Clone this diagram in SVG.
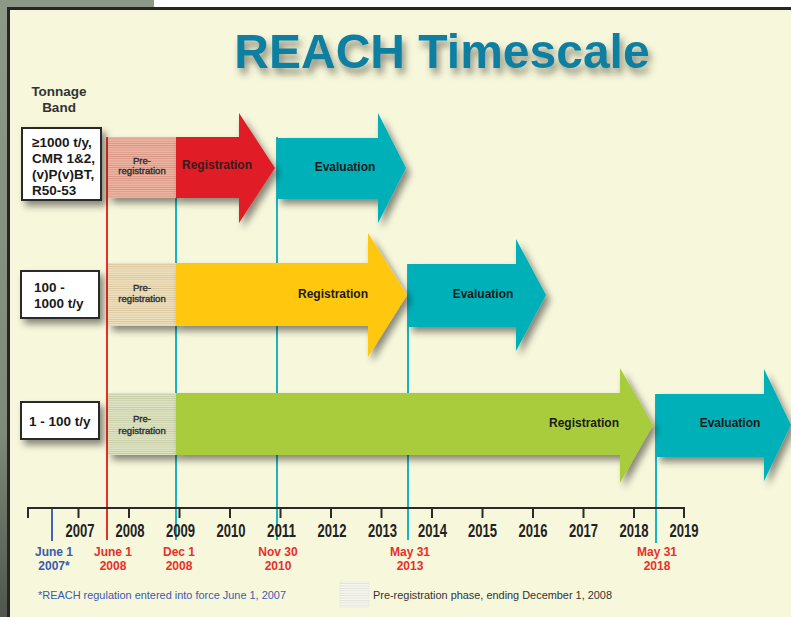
<svg xmlns="http://www.w3.org/2000/svg" width="791" height="617" viewBox="0 0 791 617">
<defs>
<linearGradient id="side" x1="0" y1="0" x2="0" y2="1">
<stop offset="0" stop-color="#8E9886"/><stop offset="0.7" stop-color="#7f8a78"/><stop offset="1" stop-color="#50564d"/>
</linearGradient>
<filter id="sh" x="-20%" y="-20%" width="150%" height="160%">
<feDropShadow dx="4" dy="5" stdDeviation="3.5" flood-color="#000" flood-opacity="0.45"/>
</filter>
<filter id="tsh" x="-10%" y="-30%" width="130%" height="180%">
<feDropShadow dx="3" dy="6" stdDeviation="3.5" flood-color="#3a3a2a" flood-opacity="0.55"/>
</filter>
<pattern id="p1" width="4" height="2.2" patternUnits="userSpaceOnUse"><rect width="4" height="2.2" fill="#EDB5A2"/><rect width="4" height="0.8" fill="#D79282"/></pattern>
<pattern id="p2" width="4" height="2.2" patternUnits="userSpaceOnUse"><rect width="4" height="2.2" fill="#EFE0BE"/><rect width="4" height="0.8" fill="#D8C69E"/></pattern>
<pattern id="p3" width="4" height="2.2" patternUnits="userSpaceOnUse"><rect width="4" height="2.2" fill="#DFE4C4"/><rect width="4" height="0.8" fill="#C3CBA4"/></pattern>
<pattern id="p4" width="4" height="2.4" patternUnits="userSpaceOnUse"><rect width="4" height="2.4" fill="#F6F6EE"/><rect width="4" height="0.7" fill="#DEDED6"/></pattern>
<style>
text{font-family:"Liberation Sans",Arial,sans-serif}
.b{font-weight:bold}
.box{fill:#fff;stroke:#2b2b2b;stroke-width:2}
.bt{font-size:13.5px;font-weight:bold;fill:#1a1a1a}
.pre{font-size:9.6px;fill:#2e2e2e;stroke:#2e2e2e;stroke-width:0.35;text-anchor:middle}
.lab{font-size:12px;font-weight:bold;text-anchor:middle;fill:#1a1a1a}
.yr{font-size:18px;font-weight:bold;fill:#222;text-anchor:middle}
.dt{font-size:12px;font-weight:bold;text-anchor:middle;fill:#E8302A}
.tl{stroke:#1BB3C0;stroke-width:2}
.tk{stroke:#2a2a2a;stroke-width:2}
</style>
</defs>
<rect width="791" height="617" fill="url(#side)"/>
<rect x="154" y="0" width="637" height="8" fill="#ffffff"/>
<rect x="7" y="7" width="784" height="610" fill="#262626"/>
<rect x="10" y="10" width="781" height="607" fill="#F7F7DC"/>

<text x="442" y="68" class="b" font-size="48" fill="#0A80A2" text-anchor="middle" filter="url(#tsh)">REACH Timescale</text>

<g id="tonnage-title"><text x="59" y="96" class="b" font-size="13.5" fill="#333" text-anchor="middle">Tonnage</text><text x="59" y="112" class="b" font-size="13.5" fill="#333" text-anchor="middle">Band</text></g>

<g id="connectors">
<line class="tl" x1="176" y1="137" x2="176" y2="540"/>
<line class="tl" x1="277" y1="137" x2="277" y2="540"/>
<line class="tl" x1="408" y1="264" x2="408" y2="540"/>
<line class="tl" x1="656" y1="394" x2="656" y2="543"/>
<line x1="107" y1="137" x2="107" y2="540" stroke="#E8302A" stroke-width="2"/>
<line x1="52" y1="508" x2="52" y2="541" stroke="#4463B5" stroke-width="2"/>
<line class="tk" x1="27" y1="508" x2="685" y2="508"/>
<g class="tk">
<line x1="28" y1="508" x2="28" y2="518"/><line x1="78.5" y1="508" x2="78.5" y2="518"/><line x1="129" y1="508" x2="129" y2="518"/><line x1="179.5" y1="508" x2="179.5" y2="518"/><line x1="230" y1="508" x2="230" y2="518"/><line x1="280.5" y1="508" x2="280.5" y2="518"/><line x1="331" y1="508" x2="331" y2="518"/><line x1="381.5" y1="508" x2="381.5" y2="518"/><line x1="432" y1="508" x2="432" y2="518"/><line x1="482.5" y1="508" x2="482.5" y2="518"/><line x1="533" y1="508" x2="533" y2="518"/><line x1="583.5" y1="508" x2="583.5" y2="518"/><line x1="634" y1="508" x2="634" y2="518"/><line x1="684" y1="508" x2="684" y2="518"/>
</g>
</g>

<g id="years">
<text class="yr" x="80" y="537" textLength="29" lengthAdjust="spacingAndGlyphs">2007</text>
<text class="yr" x="130" y="537" textLength="29" lengthAdjust="spacingAndGlyphs">2008</text>
<text class="yr" x="180.5" y="537" textLength="29" lengthAdjust="spacingAndGlyphs">2009</text>
<text class="yr" x="231" y="537" textLength="29" lengthAdjust="spacingAndGlyphs">2010</text>
<text class="yr" x="281.5" y="537" textLength="29" lengthAdjust="spacingAndGlyphs">2011</text>
<text class="yr" x="332" y="537" textLength="29" lengthAdjust="spacingAndGlyphs">2012</text>
<text class="yr" x="382.5" y="537" textLength="29" lengthAdjust="spacingAndGlyphs">2013</text>
<text class="yr" x="432.5" y="537" textLength="29" lengthAdjust="spacingAndGlyphs">2014</text>
<text class="yr" x="482.5" y="537" textLength="29" lengthAdjust="spacingAndGlyphs">2015</text>
<text class="yr" x="533" y="537" textLength="29" lengthAdjust="spacingAndGlyphs">2016</text>
<text class="yr" x="583.5" y="537" textLength="29" lengthAdjust="spacingAndGlyphs">2017</text>
<text class="yr" x="634" y="537" textLength="29" lengthAdjust="spacingAndGlyphs">2018</text>
<text class="yr" x="684" y="537" textLength="29" lengthAdjust="spacingAndGlyphs">2019</text>
</g>

<g id="dates">
<text class="dt" x="54" y="556" style="fill:#3A5BB0">June 1</text><text class="dt" x="54" y="570" style="fill:#3A5BB0">2007*</text>
<text class="dt" x="113" y="556">June 1</text><text class="dt" x="113" y="570">2008</text>
<text class="dt" x="179" y="556">Dec 1</text><text class="dt" x="179" y="570">2008</text>
<text class="dt" x="278" y="556">Nov 30</text><text class="dt" x="278" y="570">2010</text>
<text class="dt" x="410" y="556">May 31</text><text class="dt" x="410" y="570">2013</text>
<text class="dt" x="657" y="556">May 31</text><text class="dt" x="657" y="570">2018</text>
</g>

<g id="box-1000"><rect class="box" x="22" y="128" width="79" height="72" filter="url(#sh)"/>
<text class="bt" x="32" y="147">≥1000 t/y,</text><text class="bt" x="32" y="163">CMR 1&amp;2,</text><text class="bt" x="32" y="179">(v)P(v)BT,</text><text class="bt" x="32" y="195">R50-53</text></g>
<g id="box-100-1000"><rect class="box" x="21" y="271" width="78" height="47" filter="url(#sh)"/>
<text class="bt" x="34" y="292">100 -</text><text class="bt" x="34" y="308">1000 t/y</text></g>
<g id="box-1-100"><rect class="box" x="21" y="402" width="78" height="37" filter="url(#sh)"/>
<text class="bt" x="29" y="426">1 - 100 t/y</text></g>

<g id="eval-1"><path d="M277,138 H378 V113 L406,168 L378,223 V199 H277 Z" fill="#00B0B8" filter="url(#sh)"/><text class="lab" x="345" y="171">Evaluation</text></g>
<g id="pre-1"><rect x="108" y="137" width="68" height="61" fill="url(#p1)" filter="url(#sh)"/><text class="pre" x="142" y="164">Pre-</text><text class="pre" x="142" y="174">registration</text></g>
<g id="reg-1"><path d="M176,137 H239 V113 L275,168 L239,223 V198 H176 Z" fill="#E01F28" filter="url(#sh)"/><text class="lab" x="217" y="169" style="fill:#3a1c1c">Registration</text></g>

<g id="eval-2"><path d="M408,264 H516 V239 L546,295 L516,351 V327 H408 Z" fill="#00B0B8" filter="url(#sh)"/><text class="lab" x="483" y="298">Evaluation</text></g>
<g id="pre-2"><rect x="108" y="263" width="68" height="63" fill="url(#p2)" filter="url(#sh)"/><text class="pre" x="142" y="291">Pre-</text><text class="pre" x="142" y="302">registration</text></g>
<g id="reg-2"><path d="M176,263 H368 V233 L407,295 L368,357 V326 H176 Z" fill="#FFC70D" filter="url(#sh)"/><text class="lab" x="333" y="298">Registration</text></g>

<g id="eval-3"><path d="M656,394 H764 V369 L791,425 L764,481 V457 H656 Z" fill="#00B0B8" filter="url(#sh)"/><text class="lab" x="730" y="427">Evaluation</text></g>
<g id="pre-3"><rect x="108" y="393" width="68" height="62" fill="url(#p3)" filter="url(#sh)"/><text class="pre" x="142" y="422">Pre-</text><text class="pre" x="142" y="434">registration</text></g>
<g id="reg-3"><path d="M176,393 H620 V368 L653,425 L620,483 V455 H176 Z" fill="#A8CC3A" filter="url(#sh)"/><text class="lab" x="584" y="427">Registration</text></g>

<g id="legend">
<text x="38" y="599" font-size="11" fill="#3A5BB0" textLength="248" lengthAdjust="spacingAndGlyphs">*REACH regulation entered into force June 1, 2007</text>
<rect x="340" y="582" width="29" height="25" fill="url(#p4)" stroke="#E4E4DA" stroke-width="0.5"/>
<text x="373" y="599" font-size="11" fill="#333" textLength="239" lengthAdjust="spacingAndGlyphs">Pre-registration phase, ending December 1, 2008</text>
</g>
</svg>
